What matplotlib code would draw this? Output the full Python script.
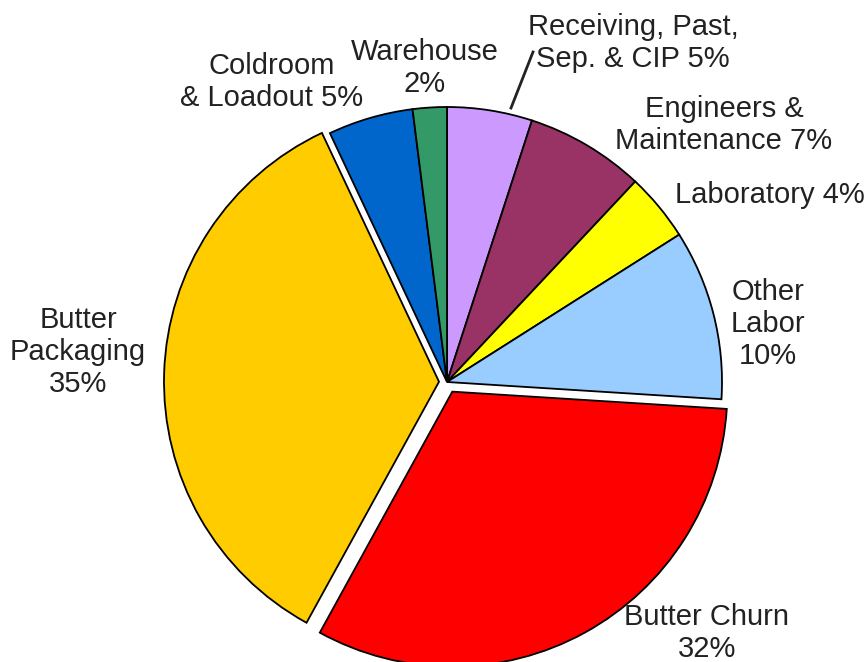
import matplotlib.pyplot as plt

plt.rcParams['font.family'] = ['Liberation Sans', 'DejaVu Sans']

# Labour share by area, clockwise from 12 o'clock
labels = ["Receiving, Past,\nSep. & CIP 5%", "Engineers &\nMaintenance 7%",
          "Laboratory 4%", "Other\nLabor\n10%", "Butter Churn\n32%",
          "Butter\nPackaging\n35%", "Coldroom\n& Loadout 5%", "Warehouse\n2%"]
shares = [5, 7, 4, 10, 32, 35, 5, 2]
colors = ["#CC99FF", "#993366", "#FFFF00", "#99CCFF", "#FF0000",
          "#FFCC00", "#0066CC", "#339966"]
explode = [0, 0, 0, 0, 11, 8, 0, 0]

# label anchor points (pixel coords, y measured from bottom)
label_pos = [(633, 619), (724, 537), (770, 467), (768, 338), (707, 29),
             (78, 310), (272, 580), (425, 594)]

W, H = 867, 662
fig = plt.figure(figsize=(W / 100, H / 100), dpi=100)
ax = fig.add_axes([0, 0, 1, 1])

ax.pie(shares, colors=colors, explode=explode, startangle=90, counterclock=False,
       center=(447, H - 382), radius=275,
       wedgeprops=dict(edgecolor='black', linewidth=1.3), frame=True)
ax.set_xlim(0, W)
ax.set_ylim(0, H)
ax.set_aspect('equal')
ax.axis('off')

for txt, (lx, ly) in zip(labels, label_pos):
    ax.text(lx, ly, txt, ha='center', va='center', multialignment='center',
            fontsize=21, color='#222222', linespacing=1.2)

# leader line for the receiving slice
ax.plot([533, 511], [H - 52, H - 108], color='#222222', lw=2)

fig.savefig("out.png", dpi=100)
